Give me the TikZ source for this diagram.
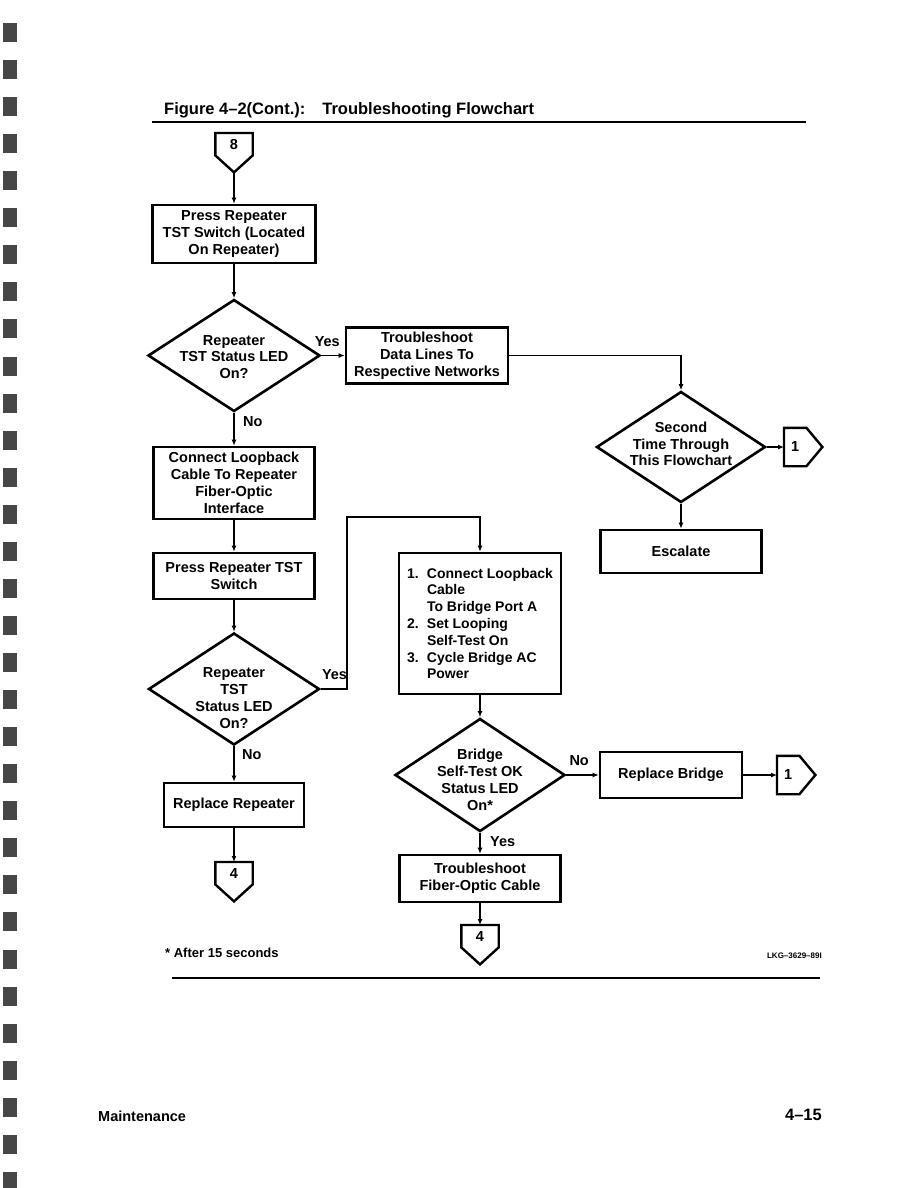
\documentclass[tikz,border=0pt]{standalone}
\usepackage{fontspec}
\setmainfont{Liberation Sans}
\usepackage{tikz}
\usetikzlibrary{arrows.meta,positioning,shapes.geometric,calc}
\newcommand{\boxfont}{\bfseries\fontsize{14.5}{16.8}\selectfont}
\newcommand{\listfont}{\bfseries\fontsize{14}{16.8}\selectfont}
\newcommand{\notefont}{\bfseries\fontsize{13}{15}\selectfont}
\newcommand{\titlefont}{\bfseries\fontsize{16.5}{19}\selectfont}
\tikzset{
	>=Latex,
	stepbox/.style={
		draw,
		line width=2.6pt,
		inner sep=2pt,
		align=center,
		font=\boxfont
	},
	decision/.style={
		diamond,
		draw,
		line width=2.6pt,
		inner sep=0pt
	},
	boxtext/.style={align=center,inner sep=0pt,font=\boxfont},
	answer/.style={inner sep=0pt,font=\boxfont},
	offpage/.style={inner sep=0pt,font=\boxfont},
	pentline/.style={line width=2.4pt,line join=miter},
	flow/.style={
		-{Latex[length=6pt,width=5pt]},
		line width=1.5pt
	},
	rulebar/.style={line width=2pt},
	hole/.style={fill=black!72}
}
% off-page connector pointing down: name, x, top y, label
\newcommand{\offdown}[4]{%
	\node[offpage,minimum width=37pt,minimum height=22pt,anchor=north] (#1) at (#2,#3) {#4};
	\coordinate (#1tip) at ($(#1.south)+(0,17)$);
	\draw[pentline] (#1.north west) -- (#1.north east) -- (#1.south east) -- (#1tip) -- (#1.south west) -- cycle;
}
% off-page connector pointing right: name, left x, mid y, label
\newcommand{\offright}[4]{%
	\node[offpage,minimum width=22pt,minimum height=38pt,anchor=west] (#1) at (#2,#3) {#4};
	\coordinate (#1tip) at ($(#1.east)+(16,0)$);
	\draw[pentline] (#1.north west) -- (#1.north east) -- (#1tip) -- (#1.south east) -- (#1.south west) -- cycle;
}

\begin{document}
\begin{tikzpicture}[x=1pt,y=-1pt]
	\useasboundingbox (0,0) rectangle (918,1188);
	\fill[white] (0,0) rectangle (918,1188);
	
	% Binder holes
	\foreach \k in {0,...,31}
		\fill[hole] (3,{23+37.06*\k}) rectangle ++(14,19);
	
	% Heading
	\node[anchor=base west,inner sep=0pt,font=\titlefont] (title) at (164,114) {Figure 4–2(Cont.):\hspace{17pt}Troubleshooting Flowchart};
	\draw[rulebar] (152,122) -- (806,122);
	
	% Nodes
	\offdown{c8}{234}{133}{8}
	\node[stepbox,minimum width=163pt,minimum height=58pt] (press1) at (234,234) {Press Repeater\\TST Switch (Located\\On Repeater)};
	\node[decision,minimum width=172pt,minimum height=112pt] (dia1) at (234,355.5) {};
	\node[boxtext] (dia1t) at (234,357) {Repeater\\TST Status LED\\On?};
	\node[stepbox,minimum width=162pt,minimum height=56pt] (trbdata) at (427,355.5) {Troubleshoot\\Data Lines To\\Respective Networks};
	
	\node[decision,minimum width=169pt,minimum height=111pt] (second) at (681,447) {};
	\node[boxtext] (secondt) at (681,444) {Second\\Time Through\\This Flowchart};
	\offright{c1a}{784}{447}{1}
	\node[stepbox,minimum width=161pt,minimum height=43pt] (escalate) at (681,551.5) {Escalate};
	
	\node[stepbox,minimum width=161pt,minimum height=72pt] (connrep) at (234,483) {Connect Loopback\\Cable To Repeater\\Fiber-Optic\\Interface};
	\node[stepbox,minimum width=161pt,minimum height=46pt] (press2) at (234,576) {Press Repeater TST\\Switch};
	\node[decision,minimum width=171pt,minimum height=112pt] (dia2) at (234,689) {};
	\node[boxtext] (dia2t) at (234,698) {Repeater\\TST\\Status LED\\On?};
	\node[stepbox,minimum width=140pt,minimum height=44pt] (replrep) at (234,805) {Replace Repeater};
	\offdown{c4a}{234}{862}{4}
	
	\coordinate (jog) at (347,517);
	\node[stepbox,minimum width=162pt,minimum height=141pt,align=left,font=\listfont] (loopbr) at (480,623.5)
	{\makebox[20pt][l]{1.}Connect Loopback\\
		\hspace*{20pt}Cable\\
		\hspace*{20pt}To Bridge Port A\\
		\makebox[20pt][l]{2.}Set Looping\\
		\hspace*{20pt}Self-Test On\\
		\makebox[20pt][l]{3.}Cycle Bridge AC\\
		\hspace*{20pt}Power};
	\node[decision,minimum width=170pt,minimum height=113pt] (dia4) at (480,775) {};
	\node[boxtext] (dia4t) at (480,780) {Bridge\\Self-Test OK\\Status LED\\On*};
	\node[stepbox,minimum width=142pt,minimum height=46pt] (replbr) at (671,775) {Replace Bridge};
	\offright{c1b}{777}{775}{1}
	\node[stepbox,minimum width=161pt,minimum height=47pt] (trbfiber) at (480,878.5) {Troubleshoot\\Fiber-Optic Cable};
	\offdown{c4b}{480}{925}{4}
	
	% Connections
	\draw[flow] (c8tip) -- (press1);
	\draw[flow] (press1) -- (dia1);
	\draw[flow] (dia1) -- (trbdata);
	\draw[flow] (trbdata) -| (second);
	\draw[flow] (second) -- (c1a);
	\draw[flow] (second) -- (escalate);
	\draw[flow] (dia1) -- (connrep);
	\draw[flow] (connrep) -- (press2);
	\draw[flow] (press2) -- (dia2);
	\draw[flow] (dia2) -- (replrep);
	\draw[flow] (replrep) -- (c4a);
	\draw[flow] (dia2) -| (jog) -| (loopbr);
	\draw[flow] (loopbr) -- (dia4);
	\draw[flow] (dia4) -- (replbr);
	\draw[flow] (replbr) -- (c1b);
	\draw[flow] (dia4) -- (trbfiber);
	\draw[flow] (trbfiber) -- (c4b);
	
	% Answers
	\node[answer,above=9pt of dia1.east,xshift=6pt] (yes1) {Yes};
	\node[answer,below right=3.5pt and 9pt of dia1.south] (no1) {No};
	\node[answer,above right=9pt and 1pt of dia2.east] (yes2) {Yes};
	\node[answer,below right=3pt and 8pt of dia2.south] (no2) {No};
	\node[answer,above right=9pt and 3pt of dia4.east] (no3) {No};
	\node[answer,below right=4pt and 10pt of dia4.south] (yes3) {Yes};
	
	% Annotations
	\node[anchor=base west,inner sep=0pt,font=\notefont] (note) at (165,957) {* After 15 seconds};
	\node[anchor=base east,inner sep=0pt,font={\bfseries\fontsize{8}{10}\selectfont}] (figid) at (822,958) {LKG–3629–89I};
	\draw[rulebar] (172,978) -- (820,978);
	\node[anchor=base west,inner sep=0pt,font={\bfseries\fontsize{14.5}{18}\selectfont}] (chapter) at (98,1121) {Maintenance};
	\node[anchor=base east,inner sep=0pt,font={\bfseries\fontsize{16.5}{19}\selectfont}] (pageno) at (822,1120) {4–15};
	
\end{tikzpicture}
\end{document}
